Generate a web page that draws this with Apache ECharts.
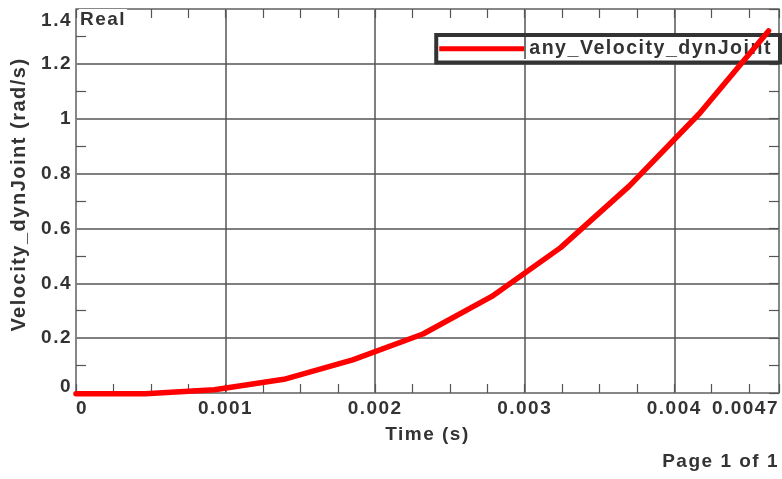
<!DOCTYPE html>
<html><head><meta charset="utf-8">
<script src="https://cdn.jsdelivr.net/npm/echarts@6/dist/echarts.min.js"></script>
<style>html,body{margin:0;padding:0;background:#fff}#c{width:782px;height:479px}</style>
</head><body><div id="c"></div>
<script>
// wider glyph spacing like the reference rendering
(function(){
  var P = CanvasRenderingContext2D.prototype, LS = '1.5px';
  var ft = P.fillText, st = P.strokeText, mt = P.measureText;
  P.fillText = function(){ try{ this.letterSpacing = LS; }catch(e){} return ft.apply(this, arguments); };
  P.strokeText = function(){ try{ this.letterSpacing = LS; }catch(e){} return st.apply(this, arguments); };
  P.measureText = function(){ try{ this.letterSpacing = LS; }catch(e){} return mt.apply(this, arguments); };
})();

// ---- data ----
const timeS    = [0, 0.000463, 0.000926, 0.00139, 0.00185, 0.00232, 0.00278, 0.00324, 0.0037, 0.00417, 0.00463];
const velocity = [-0.003, -0.003, 0.012, 0.05, 0.121, 0.215, 0.352, 0.53, 0.755, 1.02, 1.32];
const seriesName = 'any_Velocity_dynJoint';
const xMin = 0, xMax = 0.0047, xMajor = 0.001, xMinor = 0.00025;
const yMin = 0, yMax = 1.4, yMajor = 0.2, yMinor = 0.1;

const FONT = '"Liberation Sans", Arial, sans-serif';
const TXT = '#333333';
const GRIDC = '#555555';
const BORDERC = '#8a8a8a';
const TICKC = '#555555';

const txt = (size) => ({ fontFamily: FONT, fontWeight: 'bold', fontSize: size, color: TXT });
const minorTicks = (len) => ({ show: true, inside: true, length: len, lineStyle: { color: TICKC, width: 1.2 } });

const chart = echarts.init(document.getElementById('c'), null, { renderer: 'canvas' });
chart.setOption({
  animation: false,
  backgroundColor: '#ffffff',
  grid: { left: 76, right: 3, top: 9, bottom: 86, containLabel: false },
  xAxis: [
    { type: 'value', position: 'bottom', min: xMin, max: xMax, interval: xMajor,
      name: 'Time (s)', nameLocation: 'middle', nameGap: 28, nameTextStyle: txt(19),
      axisLine: { show: true, onZero: false, lineStyle: { color: BORDERC, width: 1.5 } },
      axisTick: { show: false },
      splitLine: { show: true, lineStyle: { color: GRIDC, width: 1.5 } },
      axisLabel: Object.assign(txt(19), { margin: 6, alignMinLabel: 'left', alignMaxLabel: 'right',
        formatter: v => String(+(+v).toFixed(5)) }) },
    { type: 'value', position: 'bottom', min: xMin, max: xMax, interval: xMinor,
      axisLine: { show: false, onZero: false }, axisLabel: { show: false }, splitLine: { show: false },
      axisTick: minorTicks(9) },
    { type: 'value', position: 'top', min: xMin, max: xMax, interval: xMinor,
      axisLine: { show: true, onZero: false, lineStyle: { color: BORDERC, width: 1.5 } }, axisLabel: { show: false }, splitLine: { show: false },
      axisTick: minorTicks(9) }
  ],
  yAxis: [
    { type: 'value', position: 'left', min: yMin, max: yMax, interval: yMajor,
      name: 'Velocity_dynJoint (rad/s)', nameLocation: 'middle', nameGap: 43,
      nameTextStyle: Object.assign(txt(20), { padding: [0, 0, 0, 13] }),
      axisLine: { show: true, onZero: false, lineStyle: { color: BORDERC, width: 1.5 } },
      axisTick: { show: false, inside: true },
      minorTick: { show: true, splitNumber: yMajor / yMinor, length: 10, lineStyle: { color: TICKC, width: 1.2 } },
      splitLine: { show: true, lineStyle: { color: GRIDC, width: 1.5 } },
      axisLabel: Object.assign(txt(19), { margin: 4, verticalAlignMinLabel: 'bottom', verticalAlignMaxLabel: 'top',
        formatter: v => {
          const s = String(+(+v).toFixed(2));
          if (+v === yMin) return '{lo|' + s + '}';
          if (+v === yMax) return '{hi|' + s + '}';
          return s;
        },
        rich: { lo: { lineHeight: 12 }, hi: { lineHeight: 24 } } }) },
    { type: 'value', position: 'right', min: yMin, max: yMax, interval: yMinor,
      axisLine: { show: true, onZero: false, lineStyle: { color: BORDERC, width: 1.5 } }, axisLabel: { show: false }, splitLine: { show: false },
      axisTick: minorTicks(10) }
  ],
  legend: {
    data: [{ name: seriesName, icon: 'rect', itemStyle: { color: '#ff0000' } }],
    right: 2, top: 35, orient: 'horizontal',
    backgroundColor: '#ffffff', borderColor: '#333333', borderWidth: 4, borderRadius: 0,
    padding: [3, 8, 3, 3], itemWidth: 85, itemHeight: 5,
    textStyle: Object.assign(txt(19.6), { lineHeight: 20 })
  },
  graphic: [
    { type: 'text', left: 79, top: 9, z: 50,
      style: { text: 'Real', font: 'bold 19px ' + FONT, fill: TXT, backgroundColor: '#ffffff', padding: [1, 1, 1, 1] } },
    { type: 'text', right: 3, top: 452, z: 50, style: { text: 'Page 1 of 1', font: 'bold 19px ' + FONT, fill: TXT } },
    { type: 'line', z: 60, shape: { x1: 525, y1: 37, x2: 525, y2: 59 }, style: { stroke: '#444444', lineWidth: 1.5 } }
  ],
  series: [{
    name: seriesName, type: 'line', xAxisIndex: 0, yAxisIndex: 0,
    data: timeS.map((t, i) => [t, velocity[i]]),
    symbol: 'none', clip: false, z: 10,
    lineStyle: { color: '#ff0000', width: 5.5, cap: 'round', join: 'round' },
    itemStyle: { color: '#ff0000' }
  }]
});
</script></body></html>
